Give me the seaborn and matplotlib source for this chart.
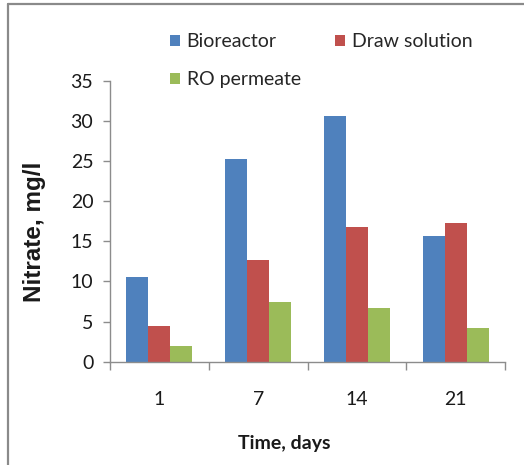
import matplotlib
matplotlib.use("Agg")
import matplotlib.pyplot as plt
from matplotlib.lines import Line2D
from matplotlib.patches import Patch
from matplotlib.ticker import FixedLocator
import seaborn as sns
import pandas as pd

# Nitrate concentrations (mg/l) sampled over the run
days = ["1", "7", "14", "21"]
bioreactor = [10.5, 25.3, 30.6, 15.6]
draw_solution = [4.4, 12.7, 16.8, 17.3]
ro_permeate = [1.9, 7.4, 6.7, 4.2]
series_names = ["Bioreactor", "Draw solution", "RO permeate"]
colors = ["#4F81BD", "#C0504D", "#9BBB59"]
yticks = [0, 5, 10, 15, 20, 25, 30, 35]

rows = []
for name, vals in zip(series_names, [bioreactor, draw_solution, ro_permeate]):
    for d, v in zip(days, vals):
        rows.append({"Time": d, "Nitrate": v, "Stream": name})
df = pd.DataFrame(rows)

sns.set_theme(style="white")
plt.rcParams["font.family"] = ["Lato", "DejaVu Sans"]

W, H = 524, 465
fig = plt.figure(figsize=(W / 100, H / 100), dpi=100)
fig.patch.set_facecolor("white")

x0, x1 = 110, 505
y_top, y_bot = 80.7, 361.7
ax = fig.add_axes([x0 / W, 1 - y_bot / H, (x1 - x0) / W, (y_bot - y_top) / H])

sns.barplot(data=df, x="Time", y="Nitrate", hue="Stream", order=days,
            hue_order=series_names, palette=colors, width=0.67,
            saturation=1, ax=ax, legend=False, edgecolor="none")

ax.set_xlim(-0.5, len(days) - 0.5)
ax.set_ylim(0, 35)
ax.set_yticks(yticks)
ax.set_yticklabels([str(t) for t in yticks])

# boundaries between groups carry the tick marks, group centres carry the labels
ax.xaxis.set_major_locator(FixedLocator([i - 0.5 for i in range(len(days) + 1)]))
ax.xaxis.set_minor_locator(FixedLocator(list(range(len(days)))))
ax.set_xticklabels([""] * (len(days) + 1))
ax.set_xticklabels(days, minor=True)
ax.tick_params(axis="x", which="major", length=6, width=1, color="#8C8C8C", direction="out", bottom=True)
ax.tick_params(axis="x", which="minor", length=0, pad=21, labelsize=14, labelcolor="#1a1a1a")
ax.tick_params(axis="y", length=5, width=1, color="#8C8C8C", direction="out", left=True, pad=7,
               labelsize=14, labelcolor="#1a1a1a")

for side in ["top", "right"]:
    ax.spines[side].set_visible(False)
for side in ["left", "bottom"]:
    ax.spines[side].set_color("#8C8C8C")
    ax.spines[side].set_linewidth(1)

ax.set_xlabel("Time, days", fontsize=14, fontweight="bold", color="#1a1a1a")
ax.xaxis.label.set_va("center")
ax.xaxis.set_label_coords((284 - x0) / (x1 - x0), (y_bot - 443) / (y_bot - y_top))

ax.set_ylabel("Nitrate, mg/l", fontsize=17.5, fontweight="bold", color="#1a1a1a",
              family=["Liberation Sans", "DejaVu Sans"])
ax.yaxis.label.set_va("center")
ax.yaxis.label.set_ha("center")
ax.yaxis.set_label_coords((34 - x0) / (x1 - x0), (y_bot - 232) / (y_bot - y_top))

# legend laid out as two columns: left column holds two entries, right column one
patches = {n: Patch(facecolor=c, edgecolor="none") for n, c in zip(series_names, colors)}
legend_kw = dict(loc="upper left", frameon=False, fontsize=14, handlelength=0.5,
                 handleheight=0.5, handletextpad=0.35, labelspacing=1.1,
                 borderpad=0, borderaxespad=0)
left_names = ["Bioreactor", "RO permeate"]
right_names = ["Draw solution"]
fig.legend([patches[n] for n in left_names], left_names,
           bbox_to_anchor=(170 / W, 1 - 33 / H), **legend_kw)
fig.legend([patches[n] for n in right_names], right_names,
           bbox_to_anchor=(335 / W, 1 - 33 / H), **legend_kw)

# outer frame: only the top and left edges fall inside the canvas
fig.add_artist(Line2D([8 / W, 8 / W], [0, 1 - 4 / H], color="#8A8A8A", lw=1.6, transform=fig.transFigure))
fig.add_artist(Line2D([8 / W, 1], [1 - 4 / H, 1 - 4 / H], color="#8A8A8A", lw=1.6, transform=fig.transFigure))

fig.savefig("out.png", dpi=100, facecolor="white")
